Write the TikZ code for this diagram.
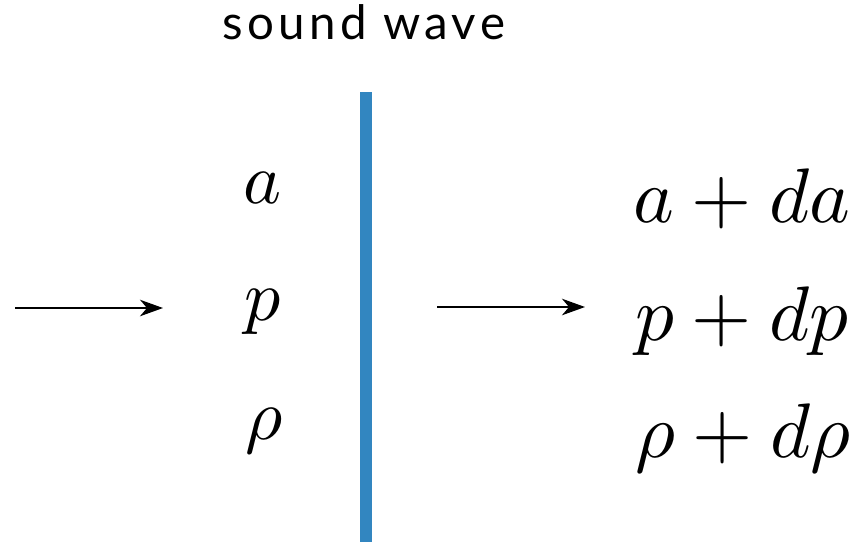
\documentclass[tikz,border=0pt]{standalone}
\usepackage{fontspec}
\newfontfamily\labelfont[LetterSpace=9]{Lato}
\usetikzlibrary{arrows.meta}
\definecolor{wavecol}{RGB}{50,134,192}

\begin{document}
\begin{tikzpicture}[x=0.02cm, y=-0.02cm,
  flow/.style={-{Stealth[length=4.6mm, width=3.3mm, inset=1.4mm]}, line width=1.1pt},
  before/.style={anchor=base, scale=4.1},
  after/.style={anchor=base, scale=4.4}]
  \useasboundingbox (0,0) rectangle (862,542);

  % title and the wave front
  \node[anchor=base, font=\labelfont\fontsize{27}{32}\selectfont] (title) at (364,39) {sound wave};
  \fill[wavecol] (360,92) rectangle (372,542);

  % state ahead of the wave
  \node[before] (a) at (263,203) {$a$};
  \node[before] (p) at (263,320) {$p$};
  \node[before] (rho) at (264,439) {$\rho$};

  % state behind the wave
  \node[after] (ada) at (742,222) {$a+da$};
  \node[after] (pdp) at (742,340) {$p+dp$};
  \node[after] (rhodrho) at (743,457) {$\rho+d\rho$};

  \coordinate (inL) at (15,308);
  \coordinate (inR) at (163,308);
  \coordinate (outL) at (437,307);
  \coordinate (outR) at (585,307);
  \draw[flow] (inL) -- (inR);
  \draw[flow] (outL) -- (outR);
\end{tikzpicture}
\end{document}
